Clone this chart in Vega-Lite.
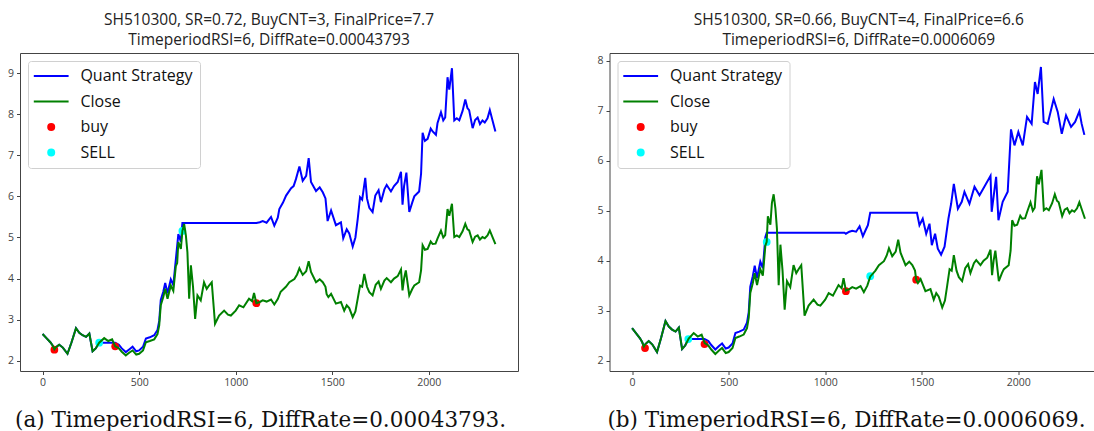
{
  "$schema": "https://vega.github.io/schema/vega-lite/v6.json",
  "background": "white",
  "padding": {"left": 6, "top": 12, "right": 0, "bottom": 0},
  "spacing": 91.5,
  "bounds": "flush",
  "datasets": {
    "close": [
      {"t":0,"v":2.65,"series":"Close"},{"t":20,"v":2.55,"series":"Close"},{"t":40,"v":2.45,"series":"Close"},{"t":52,"v":2.37,"series":"Close"},{"t":61,"v":2.28,"series":"Close"},{"t":69,"v":2.33,"series":"Close"},{"t":86,"v":2.39,"series":"Close"},{"t":105,"v":2.32,"series":"Close"},{"t":129,"v":2.17,"series":"Close"},{"t":150,"v":2.45,"series":"Close"},{"t":173,"v":2.79,"series":"Close"},{"t":190,"v":2.68,"series":"Close"},{"t":207,"v":2.62,"series":"Close"},{"t":225,"v":2.58,"series":"Close"},{"t":242,"v":2.66,"series":"Close"},{"t":259,"v":2.23,"series":"Close"},{"t":275,"v":2.30,"series":"Close"},{"t":293,"v":2.44,"series":"Close"},{"t":319,"v":2.55,"series":"Close"},{"t":340,"v":2.48,"series":"Close"},{"t":360,"v":2.52,"series":"Close"},{"t":376,"v":2.35,"series":"Close"},{"t":395,"v":2.30,"series":"Close"},{"t":410,"v":2.22,"series":"Close"},{"t":431,"v":2.13,"series":"Close"},{"t":450,"v":2.20,"series":"Close"},{"t":466,"v":2.25,"series":"Close"},{"t":485,"v":2.15,"series":"Close"},{"t":500,"v":2.17,"series":"Close"},{"t":520,"v":2.25,"series":"Close"},{"t":535,"v":2.45,"series":"Close"},{"t":555,"v":2.48,"series":"Close"},{"t":578,"v":2.52,"series":"Close"},{"t":595,"v":2.65,"series":"Close"},{"t":604,"v":2.86,"series":"Close"},{"t":612,"v":3.35,"series":"Close"},{"t":625,"v":3.55,"series":"Close"},{"t":635,"v":3.75,"series":"Close"},{"t":647,"v":3.51,"series":"Close"},{"t":664,"v":3.83,"series":"Close"},{"t":677,"v":3.70,"series":"Close"},{"t":690,"v":4.30,"series":"Close"},{"t":697,"v":4.38,"series":"Close"},{"t":703,"v":4.89,"series":"Close"},{"t":716,"v":4.72,"series":"Close"},{"t":724,"v":5.16,"series":"Close"},{"t":733,"v":5.33,"series":"Close"},{"t":742,"v":5.05,"series":"Close"},{"t":750,"v":4.64,"series":"Close"},{"t":759,"v":3.51,"series":"Close"},{"t":768,"v":4.32,"series":"Close"},{"t":779,"v":3.80,"series":"Close"},{"t":790,"v":3.02,"series":"Close"},{"t":802,"v":3.59,"series":"Close"},{"t":819,"v":3.47,"series":"Close"},{"t":836,"v":3.91,"series":"Close"},{"t":850,"v":3.75,"series":"Close"},{"t":862,"v":3.83,"series":"Close"},{"t":876,"v":3.91,"series":"Close"},{"t":893,"v":2.90,"series":"Close"},{"t":914,"v":3.10,"series":"Close"},{"t":940,"v":3.22,"series":"Close"},{"t":960,"v":3.12,"series":"Close"},{"t":975,"v":3.10,"series":"Close"},{"t":1000,"v":3.22,"series":"Close"},{"t":1018,"v":3.35,"series":"Close"},{"t":1040,"v":3.30,"series":"Close"},{"t":1069,"v":3.51,"series":"Close"},{"t":1085,"v":3.45,"series":"Close"},{"t":1095,"v":3.65,"series":"Close"},{"t":1107,"v":3.40,"series":"Close"},{"t":1125,"v":3.43,"series":"Close"},{"t":1140,"v":3.47,"series":"Close"},{"t":1160,"v":3.44,"series":"Close"},{"t":1183,"v":3.49,"series":"Close"},{"t":1200,"v":3.37,"series":"Close"},{"t":1218,"v":3.50,"series":"Close"},{"t":1233,"v":3.68,"series":"Close"},{"t":1260,"v":3.80,"series":"Close"},{"t":1278,"v":3.91,"series":"Close"},{"t":1304,"v":3.99,"series":"Close"},{"t":1318,"v":4.10,"series":"Close"},{"t":1330,"v":4.25,"series":"Close"},{"t":1347,"v":4.09,"series":"Close"},{"t":1365,"v":4.18,"series":"Close"},{"t":1378,"v":4.42,"series":"Close"},{"t":1390,"v":4.16,"series":"Close"},{"t":1416,"v":3.91,"series":"Close"},{"t":1435,"v":3.98,"series":"Close"},{"t":1451,"v":3.91,"series":"Close"},{"t":1465,"v":3.80,"series":"Close"},{"t":1471,"v":3.62,"series":"Close"},{"t":1480,"v":3.55,"series":"Close"},{"t":1494,"v":3.63,"series":"Close"},{"t":1519,"v":3.39,"series":"Close"},{"t":1545,"v":3.43,"series":"Close"},{"t":1562,"v":3.22,"series":"Close"},{"t":1575,"v":3.35,"series":"Close"},{"t":1588,"v":3.28,"series":"Close"},{"t":1606,"v":3.06,"series":"Close"},{"t":1620,"v":3.20,"series":"Close"},{"t":1632,"v":3.51,"series":"Close"},{"t":1644,"v":3.83,"series":"Close"},{"t":1655,"v":3.80,"series":"Close"},{"t":1666,"v":4.11,"series":"Close"},{"t":1680,"v":3.80,"series":"Close"},{"t":1692,"v":3.67,"series":"Close"},{"t":1709,"v":3.59,"series":"Close"},{"t":1725,"v":3.85,"series":"Close"},{"t":1740,"v":3.93,"series":"Close"},{"t":1752,"v":3.75,"series":"Close"},{"t":1770,"v":3.95,"series":"Close"},{"t":1782,"v":4.01,"series":"Close"},{"t":1804,"v":3.91,"series":"Close"},{"t":1820,"v":4.00,"series":"Close"},{"t":1839,"v":4.06,"series":"Close"},{"t":1856,"v":4.22,"series":"Close"},{"t":1864,"v":3.71,"series":"Close"},{"t":1872,"v":4.00,"series":"Close"},{"t":1881,"v":4.20,"series":"Close"},{"t":1899,"v":3.59,"series":"Close"},{"t":1915,"v":3.75,"series":"Close"},{"t":1925,"v":3.83,"series":"Close"},{"t":1950,"v":3.91,"series":"Close"},{"t":1960,"v":4.20,"series":"Close"},{"t":1968,"v":4.81,"series":"Close"},{"t":1980,"v":4.70,"series":"Close"},{"t":1994,"v":4.72,"series":"Close"},{"t":2010,"v":4.90,"series":"Close"},{"t":2020,"v":4.84,"series":"Close"},{"t":2035,"v":4.85,"series":"Close"},{"t":2045,"v":4.97,"series":"Close"},{"t":2063,"v":5.17,"series":"Close"},{"t":2075,"v":5.00,"series":"Close"},{"t":2085,"v":5.06,"series":"Close"},{"t":2097,"v":5.69,"series":"Close"},{"t":2106,"v":5.53,"series":"Close"},{"t":2120,"v":5.82,"series":"Close"},{"t":2132,"v":5.01,"series":"Close"},{"t":2145,"v":5.05,"series":"Close"},{"t":2158,"v":5.01,"series":"Close"},{"t":2175,"v":5.15,"series":"Close"},{"t":2189,"v":5.33,"series":"Close"},{"t":2200,"v":5.20,"series":"Close"},{"t":2209,"v":5.17,"series":"Close"},{"t":2227,"v":4.89,"series":"Close"},{"t":2240,"v":5.02,"series":"Close"},{"t":2253,"v":5.05,"series":"Close"},{"t":2265,"v":4.95,"series":"Close"},{"t":2278,"v":5.01,"series":"Close"},{"t":2290,"v":4.98,"series":"Close"},{"t":2304,"v":5.05,"series":"Close"},{"t":2316,"v":5.17,"series":"Close"},{"t":2330,"v":5.01,"series":"Close"},{"t":2345,"v":4.84,"series":"Close"}
    ],
    "stratA": [
      {"t":0,"v":2.65,"series":"Quant Strategy"},{"t":20,"v":2.55,"series":"Quant Strategy"},{"t":40,"v":2.45,"series":"Quant Strategy"},{"t":52,"v":2.37,"series":"Quant Strategy"},{"t":61,"v":2.28,"series":"Quant Strategy"},{"t":69,"v":2.33,"series":"Quant Strategy"},{"t":86,"v":2.39,"series":"Quant Strategy"},{"t":105,"v":2.32,"series":"Quant Strategy"},{"t":129,"v":2.17,"series":"Quant Strategy"},{"t":150,"v":2.45,"series":"Quant Strategy"},{"t":173,"v":2.79,"series":"Quant Strategy"},{"t":190,"v":2.68,"series":"Quant Strategy"},{"t":207,"v":2.62,"series":"Quant Strategy"},{"t":225,"v":2.58,"series":"Quant Strategy"},{"t":242,"v":2.66,"series":"Quant Strategy"},{"t":259,"v":2.23,"series":"Quant Strategy"},{"t":275,"v":2.30,"series":"Quant Strategy"},{"t":293,"v":2.44,"series":"Quant Strategy"},{"t":376,"v":2.44,"series":"Quant Strategy"},{"t":395,"v":2.39,"series":"Quant Strategy"},{"t":410,"v":2.30,"series":"Quant Strategy"},{"t":431,"v":2.21,"series":"Quant Strategy"},{"t":450,"v":2.28,"series":"Quant Strategy"},{"t":466,"v":2.34,"series":"Quant Strategy"},{"t":485,"v":2.23,"series":"Quant Strategy"},{"t":500,"v":2.25,"series":"Quant Strategy"},{"t":520,"v":2.34,"series":"Quant Strategy"},{"t":535,"v":2.54,"series":"Quant Strategy"},{"t":555,"v":2.57,"series":"Quant Strategy"},{"t":578,"v":2.62,"series":"Quant Strategy"},{"t":595,"v":2.75,"series":"Quant Strategy"},{"t":604,"v":2.97,"series":"Quant Strategy"},{"t":612,"v":3.48,"series":"Quant Strategy"},{"t":625,"v":3.68,"series":"Quant Strategy"},{"t":635,"v":3.89,"series":"Quant Strategy"},{"t":647,"v":3.64,"series":"Quant Strategy"},{"t":664,"v":3.98,"series":"Quant Strategy"},{"t":677,"v":3.84,"series":"Quant Strategy"},{"t":690,"v":4.46,"series":"Quant Strategy"},{"t":703,"v":5.08,"series":"Quant Strategy"},{"t":716,"v":4.90,"series":"Quant Strategy"},{"t":724,"v":5.35,"series":"Quant Strategy"},{"t":1107,"v":5.35,"series":"Quant Strategy"},{"t":1125,"v":5.37,"series":"Quant Strategy"},{"t":1140,"v":5.40,"series":"Quant Strategy"},{"t":1160,"v":5.36,"series":"Quant Strategy"},{"t":1183,"v":5.50,"series":"Quant Strategy"},{"t":1200,"v":5.29,"series":"Quant Strategy"},{"t":1218,"v":5.48,"series":"Quant Strategy"},{"t":1226,"v":5.69,"series":"Quant Strategy"},{"t":1245,"v":5.85,"series":"Quant Strategy"},{"t":1261,"v":6.02,"series":"Quant Strategy"},{"t":1287,"v":6.20,"series":"Quant Strategy"},{"t":1300,"v":6.25,"series":"Quant Strategy"},{"t":1312,"v":6.42,"series":"Quant Strategy"},{"t":1330,"v":6.73,"series":"Quant Strategy"},{"t":1347,"v":6.38,"series":"Quant Strategy"},{"t":1365,"v":6.50,"series":"Quant Strategy"},{"t":1378,"v":6.93,"series":"Quant Strategy"},{"t":1390,"v":6.35,"series":"Quant Strategy"},{"t":1416,"v":6.13,"series":"Quant Strategy"},{"t":1435,"v":6.22,"series":"Quant Strategy"},{"t":1451,"v":6.10,"series":"Quant Strategy"},{"t":1465,"v":5.95,"series":"Quant Strategy"},{"t":1476,"v":5.40,"series":"Quant Strategy"},{"t":1494,"v":5.66,"series":"Quant Strategy"},{"t":1519,"v":5.30,"series":"Quant Strategy"},{"t":1545,"v":5.37,"series":"Quant Strategy"},{"t":1557,"v":4.98,"series":"Quant Strategy"},{"t":1575,"v":5.20,"series":"Quant Strategy"},{"t":1588,"v":5.10,"series":"Quant Strategy"},{"t":1606,"v":4.78,"series":"Quant Strategy"},{"t":1620,"v":5.00,"series":"Quant Strategy"},{"t":1632,"v":5.45,"series":"Quant Strategy"},{"t":1644,"v":5.98,"series":"Quant Strategy"},{"t":1655,"v":5.92,"series":"Quant Strategy"},{"t":1671,"v":6.45,"series":"Quant Strategy"},{"t":1680,"v":5.95,"series":"Quant Strategy"},{"t":1692,"v":5.72,"series":"Quant Strategy"},{"t":1709,"v":5.62,"series":"Quant Strategy"},{"t":1723,"v":6.02,"series":"Quant Strategy"},{"t":1740,"v":6.15,"series":"Quant Strategy"},{"t":1752,"v":5.86,"series":"Quant Strategy"},{"t":1770,"v":6.17,"series":"Quant Strategy"},{"t":1782,"v":6.28,"series":"Quant Strategy"},{"t":1804,"v":6.12,"series":"Quant Strategy"},{"t":1820,"v":6.25,"series":"Quant Strategy"},{"t":1839,"v":6.35,"series":"Quant Strategy"},{"t":1856,"v":6.60,"series":"Quant Strategy"},{"t":1864,"v":5.80,"series":"Quant Strategy"},{"t":1872,"v":6.25,"series":"Quant Strategy"},{"t":1884,"v":6.58,"series":"Quant Strategy"},{"t":1899,"v":5.62,"series":"Quant Strategy"},{"t":1915,"v":5.86,"series":"Quant Strategy"},{"t":1925,"v":6.00,"series":"Quant Strategy"},{"t":1950,"v":6.12,"series":"Quant Strategy"},{"t":1960,"v":6.55,"series":"Quant Strategy"},{"t":1968,"v":7.55,"series":"Quant Strategy"},{"t":1980,"v":7.35,"series":"Quant Strategy"},{"t":1994,"v":7.40,"series":"Quant Strategy"},{"t":2010,"v":7.65,"series":"Quant Strategy"},{"t":2020,"v":7.58,"series":"Quant Strategy"},{"t":2037,"v":7.50,"series":"Quant Strategy"},{"t":2045,"v":7.78,"series":"Quant Strategy"},{"t":2063,"v":8.05,"series":"Quant Strategy"},{"t":2075,"v":7.85,"series":"Quant Strategy"},{"t":2085,"v":7.92,"series":"Quant Strategy"},{"t":2097,"v":8.90,"series":"Quant Strategy"},{"t":2106,"v":8.60,"series":"Quant Strategy"},{"t":2120,"v":9.12,"series":"Quant Strategy"},{"t":2132,"v":7.85,"series":"Quant Strategy"},{"t":2145,"v":7.90,"series":"Quant Strategy"},{"t":2158,"v":7.85,"series":"Quant Strategy"},{"t":2175,"v":8.08,"series":"Quant Strategy"},{"t":2189,"v":8.36,"series":"Quant Strategy"},{"t":2200,"v":8.15,"series":"Quant Strategy"},{"t":2209,"v":8.10,"series":"Quant Strategy"},{"t":2227,"v":7.66,"series":"Quant Strategy"},{"t":2240,"v":7.86,"series":"Quant Strategy"},{"t":2253,"v":7.92,"series":"Quant Strategy"},{"t":2265,"v":7.76,"series":"Quant Strategy"},{"t":2278,"v":7.85,"series":"Quant Strategy"},{"t":2290,"v":7.80,"series":"Quant Strategy"},{"t":2304,"v":7.90,"series":"Quant Strategy"},{"t":2316,"v":8.10,"series":"Quant Strategy"},{"t":2330,"v":7.85,"series":"Quant Strategy"},{"t":2345,"v":7.58,"series":"Quant Strategy"}
    ],
    "stratB": [
      {"t":0,"v":2.65,"series":"Quant Strategy"},{"t":20,"v":2.55,"series":"Quant Strategy"},{"t":40,"v":2.45,"series":"Quant Strategy"},{"t":52,"v":2.37,"series":"Quant Strategy"},{"t":61,"v":2.28,"series":"Quant Strategy"},{"t":69,"v":2.33,"series":"Quant Strategy"},{"t":86,"v":2.39,"series":"Quant Strategy"},{"t":105,"v":2.32,"series":"Quant Strategy"},{"t":129,"v":2.17,"series":"Quant Strategy"},{"t":150,"v":2.45,"series":"Quant Strategy"},{"t":173,"v":2.79,"series":"Quant Strategy"},{"t":190,"v":2.68,"series":"Quant Strategy"},{"t":207,"v":2.62,"series":"Quant Strategy"},{"t":225,"v":2.58,"series":"Quant Strategy"},{"t":242,"v":2.66,"series":"Quant Strategy"},{"t":259,"v":2.23,"series":"Quant Strategy"},{"t":275,"v":2.30,"series":"Quant Strategy"},{"t":291,"v":2.43,"series":"Quant Strategy"},{"t":375,"v":2.43,"series":"Quant Strategy"},{"t":395,"v":2.39,"series":"Quant Strategy"},{"t":410,"v":2.31,"series":"Quant Strategy"},{"t":431,"v":2.22,"series":"Quant Strategy"},{"t":450,"v":2.29,"series":"Quant Strategy"},{"t":466,"v":2.34,"series":"Quant Strategy"},{"t":485,"v":2.24,"series":"Quant Strategy"},{"t":500,"v":2.26,"series":"Quant Strategy"},{"t":520,"v":2.34,"series":"Quant Strategy"},{"t":535,"v":2.55,"series":"Quant Strategy"},{"t":555,"v":2.58,"series":"Quant Strategy"},{"t":578,"v":2.62,"series":"Quant Strategy"},{"t":595,"v":2.76,"series":"Quant Strategy"},{"t":604,"v":2.97,"series":"Quant Strategy"},{"t":612,"v":3.48,"series":"Quant Strategy"},{"t":625,"v":3.69,"series":"Quant Strategy"},{"t":635,"v":3.90,"series":"Quant Strategy"},{"t":647,"v":3.65,"series":"Quant Strategy"},{"t":664,"v":3.98,"series":"Quant Strategy"},{"t":677,"v":3.85,"series":"Quant Strategy"},{"t":690,"v":4.47,"series":"Quant Strategy"},{"t":697,"v":4.56,"series":"Quant Strategy"},{"t":1100,"v":4.56,"series":"Quant Strategy"},{"t":1107,"v":4.54,"series":"Quant Strategy"},{"t":1125,"v":4.58,"series":"Quant Strategy"},{"t":1140,"v":4.60,"series":"Quant Strategy"},{"t":1160,"v":4.58,"series":"Quant Strategy"},{"t":1178,"v":4.69,"series":"Quant Strategy"},{"t":1195,"v":4.49,"series":"Quant Strategy"},{"t":1210,"v":4.62,"series":"Quant Strategy"},{"t":1221,"v":4.71,"series":"Quant Strategy"},{"t":1233,"v":4.96,"series":"Quant Strategy"},{"t":1475,"v":4.96,"series":"Quant Strategy"},{"t":1488,"v":4.71,"series":"Quant Strategy"},{"t":1505,"v":4.84,"series":"Quant Strategy"},{"t":1523,"v":4.54,"series":"Quant Strategy"},{"t":1540,"v":4.74,"series":"Quant Strategy"},{"t":1552,"v":4.31,"series":"Quant Strategy"},{"t":1569,"v":4.54,"series":"Quant Strategy"},{"t":1583,"v":4.24,"series":"Quant Strategy"},{"t":1600,"v":4.12,"series":"Quant Strategy"},{"t":1618,"v":4.28,"series":"Quant Strategy"},{"t":1638,"v":4.84,"series":"Quant Strategy"},{"t":1652,"v":5.14,"series":"Quant Strategy"},{"t":1666,"v":5.54,"series":"Quant Strategy"},{"t":1687,"v":5.04,"series":"Quant Strategy"},{"t":1707,"v":5.18,"series":"Quant Strategy"},{"t":1721,"v":5.38,"series":"Quant Strategy"},{"t":1747,"v":5.14,"series":"Quant Strategy"},{"t":1773,"v":5.48,"series":"Quant Strategy"},{"t":1799,"v":5.31,"series":"Quant Strategy"},{"t":1824,"v":5.48,"series":"Quant Strategy"},{"t":1856,"v":5.70,"series":"Quant Strategy"},{"t":1862,"v":4.98,"series":"Quant Strategy"},{"t":1885,"v":5.68,"series":"Quant Strategy"},{"t":1897,"v":4.81,"series":"Quant Strategy"},{"t":1919,"v":5.18,"series":"Quant Strategy"},{"t":1945,"v":5.38,"series":"Quant Strategy"},{"t":1962,"v":6.63,"series":"Quant Strategy"},{"t":1980,"v":6.31,"series":"Quant Strategy"},{"t":2000,"v":6.58,"series":"Quant Strategy"},{"t":2023,"v":6.31,"series":"Quant Strategy"},{"t":2045,"v":6.88,"series":"Quant Strategy"},{"t":2069,"v":6.74,"series":"Quant Strategy"},{"t":2086,"v":7.58,"series":"Quant Strategy"},{"t":2100,"v":7.34,"series":"Quant Strategy"},{"t":2117,"v":7.88,"series":"Quant Strategy"},{"t":2131,"v":6.78,"series":"Quant Strategy"},{"t":2152,"v":6.74,"series":"Quant Strategy"},{"t":2183,"v":7.24,"series":"Quant Strategy"},{"t":2204,"v":6.98,"series":"Quant Strategy"},{"t":2225,"v":6.54,"series":"Quant Strategy"},{"t":2247,"v":6.91,"series":"Quant Strategy"},{"t":2273,"v":6.68,"series":"Quant Strategy"},{"t":2294,"v":6.78,"series":"Quant Strategy"},{"t":2316,"v":6.99,"series":"Quant Strategy"},{"t":2328,"v":6.74,"series":"Quant Strategy"},{"t":2342,"v":6.52,"series":"Quant Strategy"}
    ],
    "tradesA": [
      {"t":61,"v":2.27,"series":"buy"},{"t":293,"v":2.44,"series":"SELL"},{"t":376,"v":2.35,"series":"buy"},{"t":724,"v":5.16,"series":"SELL"},{"t":1107,"v":3.40,"series":"buy"}
    ],
    "tradesB": [
      {"t":67,"v":2.25,"series":"buy"},{"t":291,"v":2.43,"series":"SELL"},{"t":375,"v":2.33,"series":"buy"},{"t":697,"v":4.375,"series":"SELL"},{"t":1107,"v":3.39,"series":"buy"},{"t":1233,"v":3.69,"series":"SELL"},{"t":1471,"v":3.62,"series":"buy"}
    ]
  },
  "config": {
    "view": {"stroke": "#444", "strokeWidth": 1},
    "axis": {"grid": false, "domain": false, "tickColor": "#444", "tickSize": 3.5, "tickWidth": 1, "labelColor": "#444", "labelFont": "Open Sans", "labelFontSize": 10.5, "labelPadding": 3, "titleFont": "DejaVu Serif", "titleFontSize": 21.5, "titleFontWeight": "normal", "titleColor": "#111"},
    "legend": {"orient": "top-left", "offset": 8, "fillColor": "white", "strokeColor": "#d0d0d0", "cornerRadius": 3, "padding": 7, "labelFont": "Open Sans", "labelFontSize": 16, "labelColor": "#111", "rowPadding": 9.5, "symbolSize": 36, "symbolStrokeWidth": 2, "symbolOffset": 8.2, "labelOffset": 21.2},
    "title": {"font": "Open Sans", "fontSize": 15.5, "fontWeight": "normal", "color": "#222", "lineHeight": 20, "offset": 5}
  },
  "resolve": {
    "scale": {"x": "independent", "y": "independent", "stroke": "independent", "fill": "independent", "shape": "independent"},
    "legend": {"stroke": "independent", "fill": "independent", "shape": "independent"}
  },
  "hconcat": [
    {
      "title": {"text": ["SH510300, SR=0.72, BuyCNT=3, FinalPrice=7.7", "TimeperiodRSI=6, DiffRate=0.00043793"]},
      "width": 498,
      "height": 318,
      "encoding": {
        "x": {"field": "t", "type": "quantitative", "scale": {"domain": [-117, 2462], "nice": false, "zero": false}, "axis": {"values": [0, 500, 1000, 1500, 2000], "format": "d", "title": "(a) TimeperiodRSI=6, DiffRate=0.00043793.", "titleBaseline": "alphabetic", "titlePadding": 38.5, "titleX": 240}},
        "y": {"field": "v", "type": "quantitative", "scale": {"domain": [1.75, 9.49], "nice": false, "zero": false}, "axis": {"values": [2, 3, 4, 5, 6, 7, 8, 9], "title": null}}
      },
      "layer": [
        {"data": {"name": "stratA"}, "mark": {"type": "line", "strokeWidth": 2}, "encoding": {"stroke": {"field": "series", "type": "nominal", "scale": {"domain": ["Quant Strategy", "Close", "buy", "SELL"], "range": ["#0000ff", "#008000", "#ff0000", "#00ffff"]}, "legend": {"title": null}}}},
        {"data": {"name": "tradesA"}, "mark": {"type": "point", "filled": true, "size": 60, "opacity": 1}, "encoding": {"fill": {"field": "series", "type": "nominal", "scale": {"domain": ["Quant Strategy", "Close", "buy", "SELL"], "range": ["#0000ff", "#008000", "#ff0000", "#00ffff"]}, "legend": {"title": null}}, "shape": {"field": "series", "type": "nominal", "scale": {"domain": ["Quant Strategy", "Close", "buy", "SELL"], "range": ["M-5.8,0H5.8", "M-5.8,0H5.8", "circle", "circle"]}, "legend": {"title": null}}}},
        {"data": {"name": "close"}, "mark": {"type": "line", "strokeWidth": 2}, "encoding": {"stroke": {"field": "series", "type": "nominal", "scale": {"domain": ["Quant Strategy", "Close", "buy", "SELL"], "range": ["#0000ff", "#008000", "#ff0000", "#00ffff"]}, "legend": {"title": null}}}}
      ]
    },
    {
      "title": {"text": ["SH510300, SR=0.66, BuyCNT=4, FinalPrice=6.6", "TimeperiodRSI=6, DiffRate=0.0006069"], "dx": 6.5},
      "width": 485.5,
      "height": 318,
      "view": {"stroke": null},
      "layer": [
        {"data": {"name": "stratB"}, "mark": {"type": "line", "strokeWidth": 2}, "encoding": {
          "x": {"field": "t", "type": "quantitative", "scale": {"domain": [-117, 2397], "nice": false, "zero": false}, "axis": {"orient": "top", "labels": false, "ticks": false, "domain": true, "domainColor": "#444", "title": null}},
          "y": {"field": "v", "type": "quantitative", "scale": {"domain": [1.79, 8.16], "nice": false, "zero": false}, "axis": {"values": [2, 3, 4, 5, 6, 7, 8], "title": null, "domain": true, "domainColor": "#444"}},
          "stroke": {"field": "series", "type": "nominal", "scale": {"domain": ["Quant Strategy", "Close", "buy", "SELL"], "range": ["#0000ff", "#008000", "#ff0000", "#00ffff"]}, "legend": {"title": null}}}},
        {"data": {"name": "tradesB"}, "mark": {"type": "point", "filled": true, "size": 60, "opacity": 1}, "encoding": {
          "x": {"field": "t", "type": "quantitative", "scale": {"domain": [-117, 2397], "nice": false, "zero": false}, "axis": null},
          "y": {"field": "v", "type": "quantitative", "scale": {"domain": [1.79, 8.16], "nice": false, "zero": false}, "axis": {"values": [2, 3, 4, 5, 6, 7, 8], "title": null, "domain": true, "domainColor": "#444"}},
          "fill": {"field": "series", "type": "nominal", "scale": {"domain": ["Quant Strategy", "Close", "buy", "SELL"], "range": ["#0000ff", "#008000", "#ff0000", "#00ffff"]}, "legend": {"title": null}},
          "shape": {"field": "series", "type": "nominal", "scale": {"domain": ["Quant Strategy", "Close", "buy", "SELL"], "range": ["M-5.8,0H5.8", "M-5.8,0H5.8", "circle", "circle"]}, "legend": {"title": null}}}},
        {"data": {"name": "close"}, "mark": {"type": "line", "strokeWidth": 2}, "encoding": {
          "x": {"field": "t", "type": "quantitative", "scale": {"domain": [-117, 2397], "nice": false, "zero": false}, "axis": {"values": [0, 500, 1000, 1500, 2000], "format": "d", "domain": true, "domainColor": "#444", "title": "(b) TimeperiodRSI=6, DiffRate=0.0006069.", "titleBaseline": "alphabetic", "titlePadding": 38.5, "titleX": 236.5}},
          "y": {"field": "v", "type": "quantitative", "scale": {"domain": [1.79, 8.16], "nice": false, "zero": false}, "axis": {"values": [2, 3, 4, 5, 6, 7, 8], "title": null, "domain": true, "domainColor": "#444"}},
          "stroke": {"field": "series", "type": "nominal", "scale": {"domain": ["Quant Strategy", "Close", "buy", "SELL"], "range": ["#0000ff", "#008000", "#ff0000", "#00ffff"]}, "legend": {"title": null}}}}
      ],
      "resolve": {"axis": {"x": "independent"}}
    }
  ]
}
